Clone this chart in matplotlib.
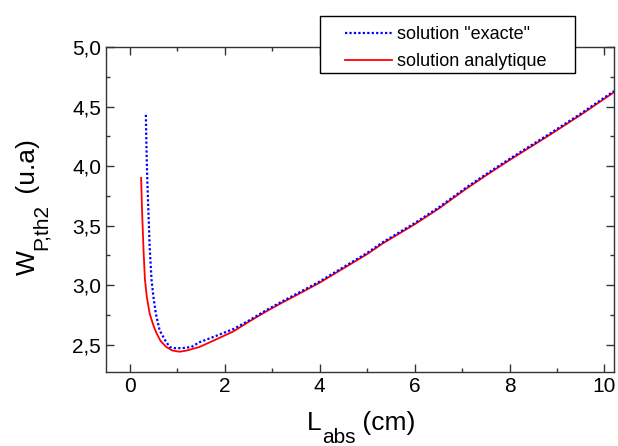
import matplotlib
matplotlib.use("Agg")
import matplotlib.pyplot as plt
from matplotlib.ticker import MultipleLocator, FuncFormatter
from matplotlib.patches import Rectangle

plt.rcParams['font.family'] = ['Liberation Sans', 'DejaVu Sans']

# "exacte" solution (blue dotted)
x_exact = [0.34, 0.35, 0.37, 0.40, 0.42, 0.46, 0.50, 0.55, 0.63, 0.74, 0.84, 0.95, 1.1, 1.3,
           1.47, 1.8, 2.18, 2.5, 2.88, 3.2, 3.58, 4.0, 4.5, 5.0, 5.33, 6.0, 6.5, 7.09, 7.5,
           8.0, 8.84, 9.5, 10.2]
y_exact = [4.43, 4.20, 3.88, 3.55, 3.32, 3.04, 2.90, 2.76, 2.62, 2.54, 2.48, 2.47, 2.47, 2.48,
           2.52, 2.57, 2.63, 2.70, 2.79, 2.86, 2.94, 3.03, 3.15, 3.27, 3.36, 3.52, 3.65, 3.82,
           3.93, 4.06, 4.27, 4.44, 4.63]

# analytical solution (red solid)
x_analytic = [0.24, 0.26, 0.29, 0.32, 0.36, 0.42, 0.50, 0.56, 0.65, 0.77, 0.9, 1.05, 1.2,
              1.47, 1.8, 2.18, 2.5, 2.88, 3.2, 3.58, 4.0, 4.5, 5.0, 5.33, 6.0, 6.5, 7.09,
              7.5, 8.0, 8.84, 9.5, 10.2]
y_analytic = [3.90, 3.62, 3.30, 3.05, 2.90, 2.76, 2.66, 2.60, 2.53, 2.48, 2.45, 2.44, 2.45,
              2.48, 2.54, 2.61, 2.69, 2.78, 2.85, 2.93, 3.02, 3.14, 3.26, 3.35, 3.51, 3.64,
              3.81, 3.92, 4.05, 4.26, 4.43, 4.62]

labels = ['solution "exacte"', 'solution analytique']
xlabel_parts = ['L', 'abs', ' (cm)']
ylabel_parts = ['W', 'P,th2', ' (u.a)']

W, H = 618, 446
fig = plt.figure(figsize=(W / 100, H / 100), dpi=100)
ax = fig.add_axes([0.1715, 0.166, 0.822, 0.7286])

ax.plot(x_exact, y_exact, color='#0000ff', lw=1.6, linestyle=(0, (1, 1)), label=labels[0], zorder=3)
ax.plot(x_analytic, y_analytic, color='#ff0000', lw=1.3, label=labels[1], zorder=2)

ax.set_xlim(-0.5, 10.2)
ax.set_ylim(2.27, 5.0)
ax.xaxis.set_major_locator(MultipleLocator(2))
ax.xaxis.set_minor_locator(MultipleLocator(1))
ax.yaxis.set_major_locator(MultipleLocator(0.5))
ax.yaxis.set_minor_locator(MultipleLocator(0.25))
ax.yaxis.set_major_formatter(FuncFormatter(lambda v, p: f"{v:.1f}".replace('.', ',')))
ax.xaxis.set_major_formatter(FuncFormatter(lambda v, p: f"{v:.0f}"))

ax.tick_params(which='both', direction='in', top=True, right=True, labelsize=15, color='#333333')
ax.tick_params(which='major', length=6, width=1)
ax.tick_params(which='minor', length=3, width=1)
for s in ax.spines.values():
    s.set_color('#333333')
    s.set_linewidth(1)


def fx(px):
    return px / W


def fy(py):
    return 1 - py / H


# composed axis labels (main text + larger-than-mathtext subscript)
MAIN, SUB = 19, 15
px_per_pt = 100 / 72.0
w_main_L = 0.556 * MAIN * px_per_pt
w_sub_abs = 1.612 * SUB * px_per_pt
x0, base = 307, 430
fig.text(fx(x0), fy(base), xlabel_parts[0], fontsize=MAIN, ha='left', va='baseline')
fig.text(fx(x0 + w_main_L), fy(base + 13), xlabel_parts[1], fontsize=SUB, ha='left', va='baseline')
fig.text(fx(x0 + w_main_L + w_sub_abs), fy(base), xlabel_parts[2], fontsize=MAIN, ha='left', va='baseline')

w_main_W = 0.944 * MAIN * px_per_pt
w_sub_P = 2.335 * SUB * px_per_pt
yb, ybase = 275, 35
fig.text(fx(ybase), fy(yb), ylabel_parts[0], fontsize=MAIN, ha='left', va='baseline',
         rotation=90, rotation_mode='anchor')
fig.text(fx(ybase + 12), fy(yb - w_main_W), ylabel_parts[1], fontsize=SUB, ha='left', va='baseline',
         rotation=90, rotation_mode='anchor')
fig.text(fx(ybase), fy(yb - w_main_W - w_sub_P), ylabel_parts[2], fontsize=MAIN, ha='left',
         va='baseline', rotation=90, rotation_mode='anchor')

# legend frame drawn over the top spine
frame = Rectangle((fx(320), fy(73)), fx(575) - fx(320), fy(16) - fy(73), transform=fig.transFigure,
                  facecolor='white', edgecolor='black', linewidth=1, zorder=5)
fig.patches.append(frame)

leg = fig.legend(*ax.get_legend_handles_labels(), loc='upper left',
                 bbox_to_anchor=(fx(345), fy(26)), bbox_transform=fig.transFigure,
                 borderaxespad=0, borderpad=0, fontsize=13, frameon=False,
                 handlelength=2.6, handletextpad=0.3, labelspacing=0.58)
leg.set_zorder(10)

fig.savefig('out.png', dpi=100)
